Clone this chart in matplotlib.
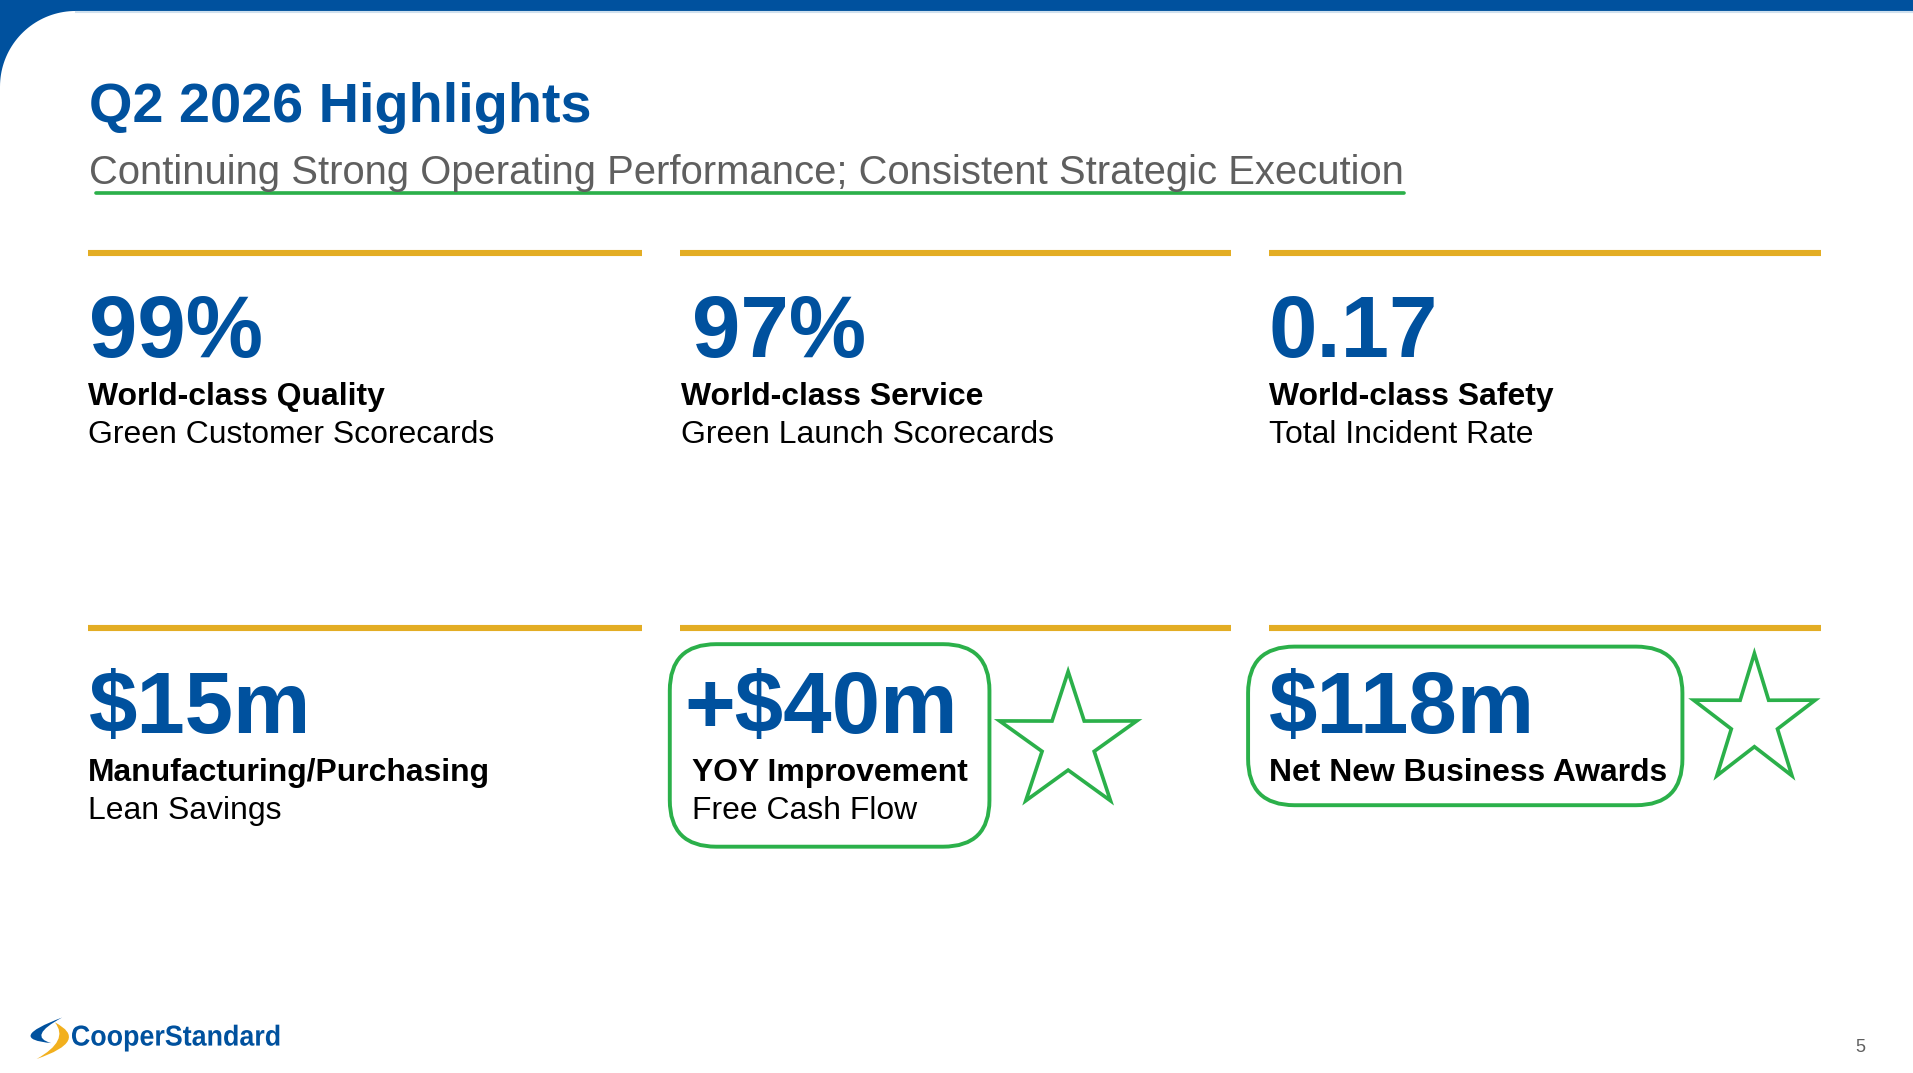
import numpy as np
import matplotlib
matplotlib.use("Agg")
import matplotlib.pyplot as plt
from matplotlib.patches import FancyBboxPatch, Polygon, PathPatch
from matplotlib.path import Path
from matplotlib.textpath import TextPath
from matplotlib.font_manager import FontProperties
import matplotlib.transforms as mtransforms

plt.rcParams['font.family'] = ['Liberation Sans', 'DejaVu Sans']

# 数据：幻灯片文字
title = 'Q2 2026 Highlights'
subtitle = 'Continuing Strong Operating Performance; Consistent Strategic Execution'
metrics = ['99%', '97%', '0.17', '$15m', '+$40m', '$118m']
headlines = ['World-class Quality', 'World-class Service', 'World-class Safety',
             'Manufacturing/Purchasing', 'YOY Improvement', 'Net New Business Awards']
details = ['Green Customer Scorecards', 'Green Launch Scorecards', 'Total Incident Rate',
           'Lean Savings', 'Free Cash Flow', '']
highlighted = [False, False, False, False, True, True]
logo_text = 'CooperStandard'
page_number = '5'

# 颜色
BLUE = '#00519E'
GOLD = '#E3AD24'
GREEN = '#2BB04A'
GREY = '#5F5F5F'

# 布局单位 (1568 x 879.5)，换算到 1913 x 1073 像素
W, H = 1568, 879.5
S = 1913 / 1568
PT = S * 0.72  # 每个布局单位对应的 pt

fig = plt.figure(figsize=(19.13, 10.73), dpi=100)
ax = fig.add_axes([0, 0, 1, 1])
ax.set_xlim(0, W)
ax.set_ylim(H, 0)
ax.axis('off')
renderer = fig.canvas.get_renderer()


def fit_text(x, y, s, width, size=20, **kw):
    t = ax.text(x, y, s, fontsize=size, va='baseline', ha='left', **kw)
    w = t.get_window_extent(renderer).width / S
    t.set_fontsize(size * width / w)
    return t


# 顶部蓝色条 + 左上圆角
band, r = 9, 62
th = np.linspace(0, np.pi / 2, 40)
arc = np.column_stack([r - r * np.sin(th), band + r - r * np.cos(th)])
top_poly = np.vstack([[[0, 0], [W, 0], [W, band]], arc, [[0, 0]]])
ax.add_patch(Polygon(top_poly, closed=True, facecolor=BLUE, edgecolor='none'))
ax.plot([r, W], [band + 1.2, band + 1.2], color='#cfe0ee', lw=1.5)

# 标题
fit_text(73, 100, title, 412, color=BLUE, fontweight='bold')
fit_text(73, 151, subtitle, 1076, color=GREY)
ax.plot([79, 1151], [158, 158], color=GREEN, lw=3 * PT, solid_capstyle='round')

# 六个指标
col_x = [72, 557, 1040]
rule_y = [207, 515]
col_w = [454, 452, 453]
num_dx = [1, 10, 0, 1, 4, 0]
lab_dx = [0, 1, 0, 0, 10, 0]
num_size = 71.3 * PT
lab_size = 26.1 * PT

for row in range(2):
    for c in range(3):
        ax.plot([col_x[c], col_x[c] + col_w[c]], [rule_y[row]] * 2,
                color=GOLD, lw=5 * PT, solid_capstyle='butt')

for i in range(6):
    row, c = divmod(i, 3)
    x0, y0 = col_x[c], rule_y[row]
    ax.text(x0 + num_dx[i], y0 + 86, metrics[i], fontsize=num_size, fontweight='bold',
            color=BLUE, va='baseline', ha='left')
    ax.text(x0 + lab_dx[i], y0 + 125, headlines[i], fontsize=lab_size, fontweight='bold',
            color='black', va='baseline', ha='left')
    if details[i]:
        ax.text(x0 + lab_dx[i], y0 + 156, details[i], fontsize=lab_size,
                color='black', va='baseline', ha='left')

# 绿色圆角框
boxes = {4: (549, 528, 262, 166), 5: (1023, 530, 356, 130)}
for i, flag in enumerate(highlighted):
    if flag:
        bx, by, bw, bh = boxes[i]
        ax.add_patch(FancyBboxPatch((bx, by), bw, bh,
                                    boxstyle='round,pad=0,rounding_size=38',
                                    facecolor='none', edgecolor=GREEN, lw=3.2 * PT))


# 星形
def star(cx, cy, R, sx=1.0, ratio=0.38):
    a = np.arange(10) * np.pi / 5
    rad = np.where(np.arange(10) % 2 == 0, R, R * ratio)
    return np.column_stack([cx + sx * rad * np.sin(a), cy - rad * np.cos(a)])


for cx, cy, R, sx in [(875.5, 609, 58.5, 1.01), (1438, 591, 55.4, 0.945)]:
    ax.add_patch(Polygon(star(cx, cy, R, sx), closed=True, facecolor='none',
                         edgecolor=GREEN, lw=3 * PT, joinstyle='miter'))


# 标志
def crescent(p0, p2, c_out, c_in, color):
    verts = [p0, c_out, p2, c_in, p0, p0]
    codes = [Path.MOVETO, Path.CURVE3, Path.CURVE3, Path.CURVE3, Path.CURVE3, Path.CLOSEPOLY]
    ax.add_patch(PathPatch(Path(verts, codes), facecolor=color, edgecolor='none'))


crescent((51, 834), (42, 855), (4, 851.5), (22, 849.5), BLUE)
crescent((45, 838), (30, 868), (74, 853), (57, 853), '#F2B01E')

tp = TextPath((0, 0), logo_text, size=100,
              prop=FontProperties(family='Liberation Sans', weight='bold'))
ext = tp.get_extents()
sx = 170 / ext.width
sy = 17 / 72.0
tr = mtransforms.Affine2D().translate(-ext.x0, 0).scale(sx, -sy).translate(59, 857) + ax.transData
ax.add_patch(PathPatch(tp, facecolor=BLUE, edgecolor='none', transform=tr))

ax.text(1525, 862, page_number, fontsize=18 / S * PT, color=GREY,
        va='baseline', ha='center')

fig.savefig('out.png', dpi=100)
